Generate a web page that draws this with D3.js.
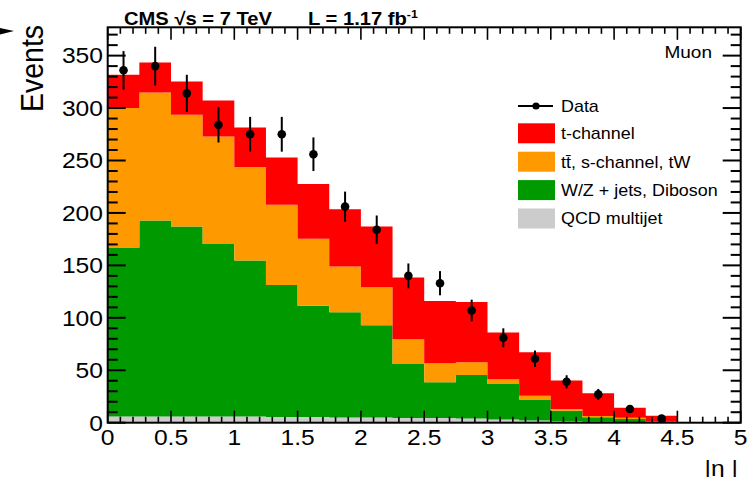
<!DOCTYPE html>
<html>
<head>
<meta charset="utf-8">
<script src="https://cdn.jsdelivr.net/npm/d3@7"></script>
<style>
  html, body { margin: 0; padding: 0; background: #fff; }
  svg { display: block; }
  text { font-family: "Liberation Sans", Arial, Helvetica, sans-serif; fill: #000; }
</style>
</head>
<body>
<svg id="chart" width="755" height="477"></svg>
<script>
// |eta| bin edges of the histogram
const binEdges = [0, 0.25, 0.5, 0.75, 1, 1.25, 1.5, 1.75, 2, 2.25, 2.5, 2.75, 3, 3.25, 3.5, 3.75, 4, 4.25, 4.5];

// Observed events per bin
const dataCounts = [336, 340, 314, 284, 275, 275, 256, 206, 184, 140, 133, 107, 81, 61, 39, 27, 13, 4];

// Expected yields per process (stacked bottom to top)
const qcdMultijet = [6, 6, 6, 6, 6, 5.5, 5.5, 5, 5, 4.5, 4.5, 4, 3, 2, 1.5, 1, 0.5, 0.3];
const wzJets      = [161, 186.7, 181, 164.5, 148.6, 125.9, 105.9, 100.3, 88, 51.5, 34, 41.5, 33.9, 20.2, 9.8, 4.1, 3, 0.5];
const ttbarSchTw  = [133, 122.2, 106.6, 102.4, 89.1, 76.3, 63.9, 43.6, 36.2, 23.6, 18.2, 12.1, 4.5, 3.4, 1.7, 1.3, 1.3, 0.4];
const tChannel    = [31.8, 28.6, 31.8, 34.4, 37.8, 45.2, 52.2, 54.7, 57.8, 58.8, 59.3, 57.4, 44.6, 41.6, 27.3, 21.6, 9.5, 5.5];

// Axis tick values
const xTickLabels = [0, 0.5, 1, 1.5, 2, 2.5, 3, 3.5, 4, 4.5, 5];
const yTickLabels = [0, 50, 100, 150, 200, 250, 300, 350];

const processKeys   = ["qcd", "wz", "tt", "tch"];
const processColors = { qcd: "#cccccc", wz: "#009900", tt: "#ff9900", tch: "#ff0000" };
const legendLabels  = [
  { key: "tch", label: "t-channel" },
  { key: "tt",  label: "tt\u0304, s-channel, tW" },
  { key: "wz",  label: "W/Z + jets, Diboson" },
  { key: "qcd", label: "QCD multijet" }
];

// Glyph width stretch used for all text
const SX = 1.12;

const svg = d3.select("#chart");
const plot = { left: 107.7, right: 740.7, top: 27.3, bottom: 422.7 };

const x = d3.scaleLinear().domain([0, 5]).range([plot.left, plot.right]);
const y = d3.scaleLinear().domain([0, 377]).range([plot.bottom, plot.top]);

function stretchedText(parent, px, py, str, size, anchor, weight) {
  const g = parent.append("g").attr("transform", `translate(${px},${py}) scale(${SX},1)`);
  return g.append("text")
    .attr("x", 0).attr("y", 0)
    .attr("font-size", size)
    .attr("font-weight", weight || "normal")
    .attr("text-anchor", anchor || "start")
    .text(str);
}

// Build the stacked table
const rows = binEdges.slice(0, -1).map((lo, i) => ({
  lo: lo, hi: binEdges[i + 1],
  qcd: qcdMultijet[i], wz: wzJets[i], tt: ttbarSchTw[i], tch: tChannel[i]
}));
const stacked = d3.stack().keys(processKeys)(rows);

// Step-shaped filled areas, one per process
const area = d3.area()
  .curve(d3.curveStepAfter)
  .x(d => x(d.xv))
  .y0(d => y(d.y0))
  .y1(d => y(d.y1));

const layers = svg.append("g");
stacked.forEach(layer => {
  const pts = layer.map(d => ({ xv: d.data.lo, y0: d[0], y1: d[1] }));
  const last = layer[layer.length - 1];
  pts.push({ xv: last.data.hi, y0: last[0], y1: last[1] });
  layers.append("path")
    .attr("d", area(pts))
    .attr("fill", processColors[layer.key])
    .attr("stroke", "none");
});

// Frame and ticks
const axes = svg.append("g").attr("stroke", "#000");

const yMinor = d3.range(0, 377, 10);
yMinor.forEach(v => {
  const major = v % 50 === 0;
  const len = major ? 18 : 10;
  axes.append("line").attr("x1", plot.left).attr("x2", plot.left + len)
    .attr("y1", y(v)).attr("y2", y(v)).attr("stroke-width", 2);
  axes.append("line").attr("x1", plot.right).attr("x2", plot.right - len)
    .attr("y1", y(v)).attr("y2", y(v)).attr("stroke-width", 2);
});

const xMinor = d3.range(0, 50.1, 1).map(k => k / 10);
xMinor.forEach(v => {
  const major = Math.round(v * 10) % 5 === 0;
  axes.append("line").attr("x1", x(v)).attr("x2", x(v))
    .attr("y1", plot.bottom).attr("y2", plot.bottom - (major ? 12 : 6)).attr("stroke-width", 1.6);
  axes.append("line").attr("x1", x(v)).attr("x2", x(v))
    .attr("y1", plot.top).attr("y2", plot.top + (major ? 12.5 : 6.5)).attr("stroke-width", 1.6);
});

axes.append("rect")
  .attr("x", plot.left).attr("y", plot.top)
  .attr("width", plot.right - plot.left).attr("height", plot.bottom - plot.top)
  .attr("fill", "none").attr("stroke-width", 2);

// Tick labels
yTickLabels.forEach(v => stretchedText(svg, 103, y(v) + 7.8, String(v), 22, "end"));
xTickLabels.forEach(v => stretchedText(svg, x(v), 445, String(v), 22, "middle"));

// Data points with Poisson error bars
const dataG = svg.append("g");
dataCounts.forEach((n, i) => {
  const cx = x((binEdges[i] + binEdges[i + 1]) / 2);
  const err = Math.sqrt(n);
  dataG.append("line").attr("x1", cx).attr("x2", cx)
    .attr("y1", y(n - err)).attr("y2", y(n + err))
    .attr("stroke", "#000").attr("stroke-width", 2);
  dataG.append("circle").attr("cx", cx).attr("cy", y(n)).attr("r", 4.3).attr("fill", "#000");
});

// Title
stretchedText(svg, 124, 25, "CMS \u221As = 7 TeV", 18, "start", "bold");
const lumi = stretchedText(svg, 308, 25, "L = 1.17 fb", 18, "start", "bold");
lumi.append("tspan").attr("font-size", 11).attr("dy", -7).text("-1");

// Axis titles
svg.append("g")
  .attr("transform", `translate(42.5,112) scale(${SX},1) rotate(-90)`)
  .append("text").attr("font-size", 28.5).attr("text-anchor", "start").text("Events");

// x title sits at the lower page edge; its subscript lies just below it
const xt = stretchedText(svg, 738, 476, "|\u03B7", 22, "end");
xt.append("tspan").attr("font-size", 15).attr("dy", 14).text("j'");
xt.append("tspan").attr("dy", -14).text("|");

// Channel label
stretchedText(svg, 712, 58.3, "Muon", 17, "end");

// Legend
const leg = svg.append("g");
leg.append("line").attr("x1", 518).attr("x2", 553).attr("y1", 106).attr("y2", 106)
  .attr("stroke", "#000").attr("stroke-width", 2);
leg.append("circle").attr("cx", 536).attr("cy", 106).attr("r", 3.6).attr("fill", "#000");
stretchedText(leg, 561, 111.8, "Data", 16, "start");

legendLabels.forEach((d, i) => {
  const top = 123.3 + i * 28.4;
  leg.append("rect").attr("x", 518).attr("y", top).attr("width", 37).attr("height", 20)
    .attr("fill", processColors[d.key]);
  stretchedText(leg, 561, top + 15.8, d.label, 16, "start");
});

// Edge marker at the top left
svg.append("path").attr("d", "M0,28 L14,31 L0,34.5 Z").attr("fill", "#000");
</script>
</body>
</html>
